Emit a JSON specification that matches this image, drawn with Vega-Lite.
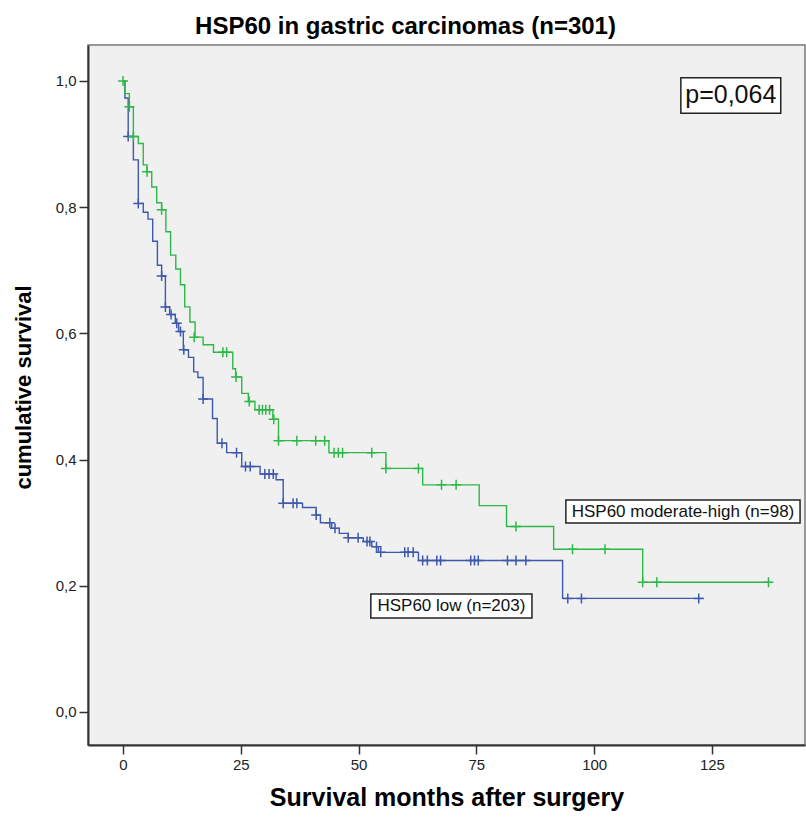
{
  "$schema": "https://vega.github.io/schema/vega-lite/v6.json",
  "width": 717,
  "height": 700,
  "autosize": {"type": "none"},
  "padding": {"left": 88, "top": 45, "right": 1, "bottom": 78},
  "background": "white",
  "config": {
    "view": {"fill": "#F0F0F0", "stroke": "#7a7a7a", "strokeWidth": 1.5},
    "font": "Liberation Sans"
  },
  "title": {
    "text": "HSP60 in gastric carcinomas (n=301)",
    "font": "Liberation Sans",
    "fontSize": 24,
    "fontWeight": "bold",
    "color": "#000000",
    "anchor": "middle",
    "dx": -41,
    "offset": 6
  },
  "datasets": {
    "curve": [
      {"group": "low", "month": 0, "surv": 1.0},
      {"group": "low", "month": 0.4, "surv": 0.973},
      {"group": "low", "month": 1.1, "surv": 0.912},
      {"group": "low", "month": 2.2, "surv": 0.875},
      {"group": "low", "month": 3.25, "surv": 0.806},
      {"group": "low", "month": 4.3, "surv": 0.792},
      {"group": "low", "month": 5.3, "surv": 0.781},
      {"group": "low", "month": 6.3, "surv": 0.746},
      {"group": "low", "month": 7.3, "surv": 0.708},
      {"group": "low", "month": 8.2, "surv": 0.691},
      {"group": "low", "month": 9.0, "surv": 0.642},
      {"group": "low", "month": 9.9, "surv": 0.63},
      {"group": "low", "month": 11.1, "surv": 0.616},
      {"group": "low", "month": 11.8, "surv": 0.603},
      {"group": "low", "month": 12.8, "surv": 0.574},
      {"group": "low", "month": 13.9, "surv": 0.562},
      {"group": "low", "month": 15.0, "surv": 0.539},
      {"group": "low", "month": 15.9, "surv": 0.53},
      {"group": "low", "month": 17.0, "surv": 0.496},
      {"group": "low", "month": 19.0, "surv": 0.465},
      {"group": "low", "month": 20.0, "surv": 0.426},
      {"group": "low", "month": 22.0, "surv": 0.411},
      {"group": "low", "month": 25.2, "surv": 0.389},
      {"group": "low", "month": 29.1, "surv": 0.377},
      {"group": "low", "month": 32.5, "surv": 0.368},
      {"group": "low", "month": 34.0, "surv": 0.331},
      {"group": "low", "month": 38.1, "surv": 0.324},
      {"group": "low", "month": 41.0, "surv": 0.312},
      {"group": "low", "month": 41.9, "surv": 0.3},
      {"group": "low", "month": 44.3, "surv": 0.291},
      {"group": "low", "month": 45.9, "surv": 0.283},
      {"group": "low", "month": 47.8, "surv": 0.276},
      {"group": "low", "month": 51.0, "surv": 0.27},
      {"group": "low", "month": 52.8, "surv": 0.262},
      {"group": "low", "month": 54.2, "surv": 0.253},
      {"group": "low", "month": 62.7, "surv": 0.24},
      {"group": "low", "month": 93.3, "surv": 0.18},
      {"group": "low", "month": 123.2, "surv": 0.18},
      {"group": "moderate-high", "month": 0, "surv": 1.0},
      {"group": "moderate-high", "month": 0.4, "surv": 0.98},
      {"group": "moderate-high", "month": 1.35, "surv": 0.959},
      {"group": "moderate-high", "month": 2.2, "surv": 0.912},
      {"group": "moderate-high", "month": 3.25, "surv": 0.901},
      {"group": "moderate-high", "month": 4.3, "surv": 0.867},
      {"group": "moderate-high", "month": 5.1, "surv": 0.856},
      {"group": "moderate-high", "month": 6.1, "surv": 0.832},
      {"group": "moderate-high", "month": 7.15, "surv": 0.807},
      {"group": "moderate-high", "month": 8.2, "surv": 0.796},
      {"group": "moderate-high", "month": 9.1, "surv": 0.761},
      {"group": "moderate-high", "month": 10.1, "surv": 0.724},
      {"group": "moderate-high", "month": 11.2, "surv": 0.702},
      {"group": "moderate-high", "month": 12.2, "surv": 0.677},
      {"group": "moderate-high", "month": 13.1, "surv": 0.642},
      {"group": "moderate-high", "month": 14.2, "surv": 0.618},
      {"group": "moderate-high", "month": 15.3, "surv": 0.594},
      {"group": "moderate-high", "month": 17.0, "surv": 0.582},
      {"group": "moderate-high", "month": 19.2, "surv": 0.57},
      {"group": "moderate-high", "month": 23.3, "surv": 0.544},
      {"group": "moderate-high", "month": 23.9, "surv": 0.531},
      {"group": "moderate-high", "month": 25.2, "surv": 0.505},
      {"group": "moderate-high", "month": 26.6, "surv": 0.492},
      {"group": "moderate-high", "month": 28.0, "surv": 0.479},
      {"group": "moderate-high", "month": 31.8, "surv": 0.464},
      {"group": "moderate-high", "month": 33.0, "surv": 0.43},
      {"group": "moderate-high", "month": 43.7, "surv": 0.411},
      {"group": "moderate-high", "month": 55.8, "surv": 0.386},
      {"group": "moderate-high", "month": 63.6, "surv": 0.36},
      {"group": "moderate-high", "month": 75.6, "surv": 0.327},
      {"group": "moderate-high", "month": 81.4, "surv": 0.294},
      {"group": "moderate-high", "month": 91.4, "surv": 0.258},
      {"group": "moderate-high", "month": 110.3, "surv": 0.2055},
      {"group": "moderate-high", "month": 137.3, "surv": 0.2055}
    ],
    "censor": [
      {"group": "low", "month": 1.1, "surv": 0.912},
      {"group": "low", "month": 3.25, "surv": 0.806},
      {"group": "low", "month": 8.2, "surv": 0.691},
      {"group": "low", "month": 9.0, "surv": 0.642},
      {"group": "low", "month": 10.2, "surv": 0.63},
      {"group": "low", "month": 11.4, "surv": 0.616},
      {"group": "low", "month": 12.2, "surv": 0.603},
      {"group": "low", "month": 12.9, "surv": 0.574},
      {"group": "low", "month": 17.0, "surv": 0.496},
      {"group": "low", "month": 21.0, "surv": 0.426},
      {"group": "low", "month": 24.1, "surv": 0.411},
      {"group": "low", "month": 26.0, "surv": 0.389},
      {"group": "low", "month": 27.0, "surv": 0.389},
      {"group": "low", "month": 30.1, "surv": 0.377},
      {"group": "low", "month": 31.0, "surv": 0.377},
      {"group": "low", "month": 31.9, "surv": 0.377},
      {"group": "low", "month": 34.0, "surv": 0.331},
      {"group": "low", "month": 36.1, "surv": 0.331},
      {"group": "low", "month": 36.9, "surv": 0.331},
      {"group": "low", "month": 41.0, "surv": 0.312},
      {"group": "low", "month": 43.9, "surv": 0.3},
      {"group": "low", "month": 45.0, "surv": 0.291},
      {"group": "low", "month": 47.8, "surv": 0.276},
      {"group": "low", "month": 49.9, "surv": 0.276},
      {"group": "low", "month": 51.8, "surv": 0.27},
      {"group": "low", "month": 52.4, "surv": 0.27},
      {"group": "low", "month": 53.8, "surv": 0.262},
      {"group": "low", "month": 54.7, "surv": 0.253},
      {"group": "low", "month": 59.8, "surv": 0.253},
      {"group": "low", "month": 60.5, "surv": 0.253},
      {"group": "low", "month": 61.6, "surv": 0.253},
      {"group": "low", "month": 63.6, "surv": 0.24},
      {"group": "low", "month": 64.6, "surv": 0.24},
      {"group": "low", "month": 66.6, "surv": 0.24},
      {"group": "low", "month": 67.4, "surv": 0.24},
      {"group": "low", "month": 73.8, "surv": 0.24},
      {"group": "low", "month": 74.6, "surv": 0.24},
      {"group": "low", "month": 75.4, "surv": 0.24},
      {"group": "low", "month": 81.6, "surv": 0.24},
      {"group": "low", "month": 83.4, "surv": 0.24},
      {"group": "low", "month": 85.5, "surv": 0.24},
      {"group": "low", "month": 94.4, "surv": 0.18},
      {"group": "low", "month": 97.3, "surv": 0.18},
      {"group": "low", "month": 122.2, "surv": 0.18},
      {"group": "moderate-high", "month": 0, "surv": 1.0},
      {"group": "moderate-high", "month": 1.35, "surv": 0.959},
      {"group": "moderate-high", "month": 2.2, "surv": 0.912},
      {"group": "moderate-high", "month": 5.1, "surv": 0.856},
      {"group": "moderate-high", "month": 8.2, "surv": 0.796},
      {"group": "moderate-high", "month": 15.1, "surv": 0.594},
      {"group": "moderate-high", "month": 21.2, "surv": 0.57},
      {"group": "moderate-high", "month": 22.0, "surv": 0.57},
      {"group": "moderate-high", "month": 24.0, "surv": 0.531},
      {"group": "moderate-high", "month": 26.8, "surv": 0.492},
      {"group": "moderate-high", "month": 28.9, "surv": 0.479},
      {"group": "moderate-high", "month": 29.6, "surv": 0.479},
      {"group": "moderate-high", "month": 30.3, "surv": 0.479},
      {"group": "moderate-high", "month": 31.1, "surv": 0.479},
      {"group": "moderate-high", "month": 32.0, "surv": 0.464},
      {"group": "moderate-high", "month": 33.0, "surv": 0.43},
      {"group": "moderate-high", "month": 36.9, "surv": 0.43},
      {"group": "moderate-high", "month": 40.9, "surv": 0.43},
      {"group": "moderate-high", "month": 42.8, "surv": 0.43},
      {"group": "moderate-high", "month": 44.8, "surv": 0.411},
      {"group": "moderate-high", "month": 45.7, "surv": 0.411},
      {"group": "moderate-high", "month": 46.6, "surv": 0.411},
      {"group": "moderate-high", "month": 52.8, "surv": 0.411},
      {"group": "moderate-high", "month": 55.8, "surv": 0.386},
      {"group": "moderate-high", "month": 62.7, "surv": 0.386},
      {"group": "moderate-high", "month": 67.6, "surv": 0.36},
      {"group": "moderate-high", "month": 70.7, "surv": 0.36},
      {"group": "moderate-high", "month": 83.4, "surv": 0.294},
      {"group": "moderate-high", "month": 95.4, "surv": 0.258},
      {"group": "moderate-high", "month": 102.3, "surv": 0.258},
      {"group": "moderate-high", "month": 110.3, "surv": 0.2055},
      {"group": "moderate-high", "month": 113.3, "surv": 0.2055},
      {"group": "moderate-high", "month": 137.0, "surv": 0.2055}
    ],
    "notes": [
      {"kind": "p", "label": "p=0,064", "month": 118.4, "month2": 139.6, "surv": 0.949, "surv2": 1.005, "tm": 129.0, "ts": 0.977},
      {"kind": "group", "label": "HSP60 moderate-high (n=98)", "month": 94.0, "month2": 143.7, "surv": 0.2995, "surv2": 0.336, "tm": 118.85, "ts": 0.3177},
      {"kind": "group", "label": "HSP60 low (n=203)", "month": 52.6, "month2": 86.8, "surv": 0.149, "surv2": 0.187, "tm": 69.7, "ts": 0.168}
    ]
  },
  "encoding": {
    "x": {
      "field": "month",
      "type": "quantitative",
      "scale": {"domain": [-7.43, 144.75], "nice": false, "zero": false},
      "axis": {
        "title": "Survival months after surgery",
        "values": [0, 25, 50, 75, 100, 125],
        "grid": false,
        "tickSize": 9,
        "tickColor": "#333333",
        "tickWidth": 1.5,
        "domainColor": "#333333",
        "domainWidth": 2,
        "labelFont": "Liberation Sans",
        "labelFontSize": 15,
        "labelColor": "#222222",
        "labelPadding": 3,
        "titleFont": "Liberation Sans",
        "titleFontSize": 25,
        "titleFontWeight": "bold",
        "titleColor": "#000000",
        "titlePadding": 13
      }
    },
    "y": {
      "field": "surv",
      "type": "quantitative",
      "scale": {"domain": [-0.0523, 1.057], "nice": false, "zero": false},
      "axis": {
        "title": "cumulative survival",
        "values": [0, 0.2, 0.4, 0.6, 0.8, 1.0],
        "labelExpr": "replace(format(datum.value, '.1f'), '.', ',')",
        "grid": false,
        "tickSize": 9,
        "tickColor": "#333333",
        "tickWidth": 1.5,
        "domainColor": "#333333",
        "domainWidth": 2,
        "labelFont": "Liberation Sans",
        "labelFontSize": 15,
        "labelColor": "#222222",
        "labelPadding": 3,
        "titleFont": "Liberation Sans",
        "titleFontSize": 22,
        "titleFontWeight": "bold",
        "titleColor": "#000000",
        "titlePadding": 20,
        "titleY": 342
      }
    }
  },
  "layer": [
    {
      "data": {"name": "curve"},
      "mark": {"type": "line", "interpolate": "step-after", "strokeWidth": 1.4},
      "encoding": {
        "color": {
          "field": "group",
          "type": "nominal",
          "scale": {"domain": ["low", "moderate-high"], "range": ["#3E58AC", "#2EB848"]},
          "legend": null
        }
      }
    },
    {
      "data": {"name": "censor"},
      "mark": {"type": "point", "shape": "M-1,0L1,0M0,-1L0,1", "filled": false, "size": 100, "strokeWidth": 1.5, "opacity": 1},
      "encoding": {
        "color": {
          "field": "group",
          "type": "nominal",
          "scale": {"domain": ["low", "moderate-high"], "range": ["#3E58AC", "#2EB848"]},
          "legend": null
        }
      }
    },
    {
      "data": {"name": "notes"},
      "mark": {"type": "rect", "fill": "white", "stroke": "#222222", "strokeWidth": 1.5},
      "encoding": {
        "x2": {"field": "month2"},
        "y2": {"field": "surv2"}
      }
    },
    {
      "data": {"name": "notes"},
      "transform": [{"filter": "datum.kind === 'group'"}],
      "mark": {"type": "text", "font": "Liberation Sans", "fontSize": 17, "color": "#111111", "align": "center", "baseline": "middle"},
      "encoding": {
        "x": {"field": "tm", "type": "quantitative"},
        "y": {"field": "ts", "type": "quantitative"},
        "text": {"field": "label"}
      }
    },
    {
      "data": {"name": "notes"},
      "transform": [{"filter": "datum.kind === 'p'"}],
      "mark": {"type": "text", "font": "Liberation Sans", "fontSize": 25, "color": "#111111", "align": "center", "baseline": "middle"},
      "encoding": {
        "x": {"field": "tm", "type": "quantitative"},
        "y": {"field": "ts", "type": "quantitative"},
        "text": {"field": "label"}
      }
    }
  ]
}
